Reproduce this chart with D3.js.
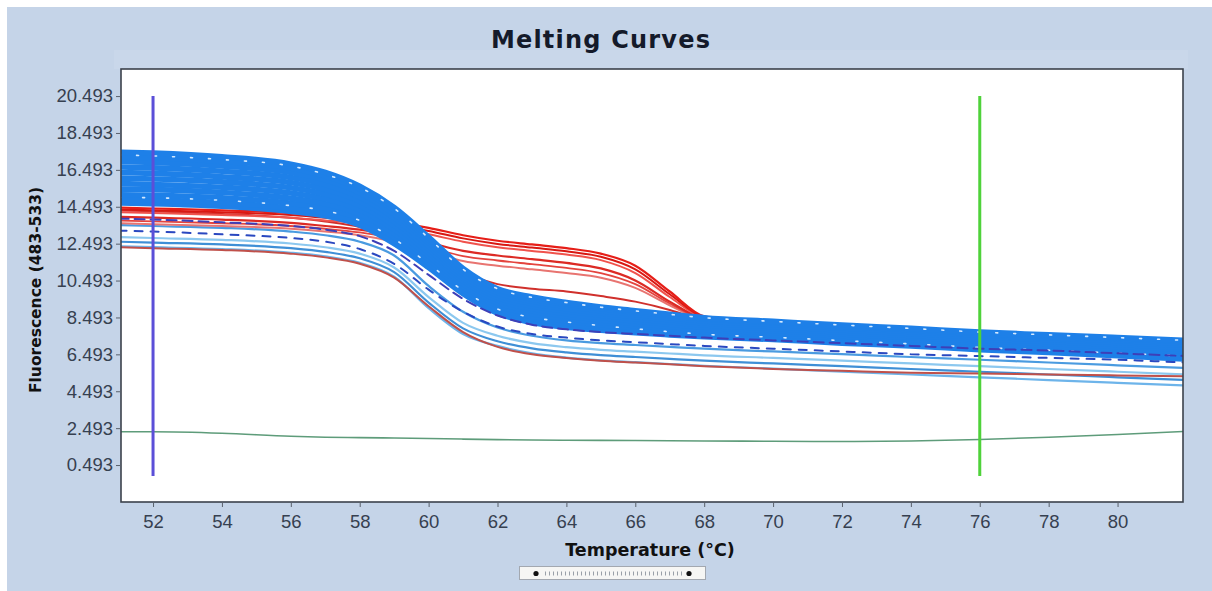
<!DOCTYPE html>
<html>
<head>
<meta charset="utf-8">
<script src="https://cdn.jsdelivr.net/npm/d3@7"></script>
<style>
  html, body { margin: 0; padding: 0; background: #c5d4e8; overflow: hidden; }
  svg { display: block; }
</style>
</head>
<body>
<svg id="chart" width="1212" height="591"></svg>
<script>
// ---- data ---------------------------------------------------------------
const temps = [51, 52, 54, 56, 57, 58, 59, 60, 61, 62, 63, 64, 65, 66, 67, 68, 70, 72, 74, 76, 78, 80, 82];

const xTickValues = [52, 54, 56, 58, 60, 62, 64, 66, 68, 70, 72, 74, 76, 78, 80];
const yTickValues = [0.493, 2.493, 4.493, 6.493, 8.493, 10.493, 12.493, 14.493, 16.493, 18.493, 20.493];

// main group of samples (single low-temperature melt)
const blueA = [17.45, 17.4, 17.2, 16.8, 16.35, 15.6, 14.45, 12.85, 11.15, 10.05, 9.6, 9.3, 9.06, 8.86, 8.66, 8.48, 8.28, 8.08, 7.9, 7.7, 7.55, 7.4, 7.25];
const blueB = [17.2, 17.15, 16.95, 16.6, 16.15, 15.45, 14.3, 12.7, 11.05, 9.98, 9.5, 9.22, 8.98, 8.78, 8.6, 8.42, 8.22, 8.02, 7.83, 7.63, 7.48, 7.33, 7.18];
const blueC = [16.95, 16.9, 16.7, 16.35, 15.95, 15.25, 14.1, 12.55, 10.9, 9.85, 9.38, 9.1, 8.86, 8.66, 8.48, 8.3, 8.11, 7.92, 7.73, 7.54, 7.39, 7.24, 7.08];
const blueD = [16.65, 16.6, 16.42, 16.08, 15.7, 15.02, 13.9, 12.38, 10.76, 9.72, 9.25, 8.97, 8.74, 8.55, 8.37, 8.2, 8.0, 7.81, 7.63, 7.44, 7.3, 7.14, 6.98];
const blueE = [16.35, 16.3, 16.12, 15.8, 15.44, 14.8, 13.7, 12.2, 10.62, 9.58, 9.12, 8.84, 8.62, 8.43, 8.25, 8.08, 7.9, 7.71, 7.52, 7.33, 7.19, 7.03, 6.87];
const blueF = [16.05, 16.0, 15.84, 15.52, 15.18, 14.56, 13.48, 12.02, 10.48, 9.44, 8.98, 8.7, 8.49, 8.3, 8.13, 7.97, 7.79, 7.6, 7.42, 7.23, 7.08, 6.92, 6.76];
const blueG = [15.75, 15.7, 15.55, 15.24, 14.92, 14.33, 13.27, 11.84, 10.32, 9.3, 8.84, 8.57, 8.36, 8.17, 8.0, 7.85, 7.68, 7.49, 7.31, 7.12, 6.97, 6.81, 6.65];
const blueH = [15.45, 15.42, 15.27, 14.95, 14.66, 14.1, 13.05, 11.66, 10.17, 9.15, 8.7, 8.44, 8.23, 8.04, 7.88, 7.74, 7.57, 7.38, 7.21, 7.02, 6.87, 6.71, 6.55];
const blueI = [15.15, 15.12, 14.98, 14.68, 14.4, 13.86, 12.84, 11.47, 10.02, 9.0, 8.56, 8.3, 8.1, 7.92, 7.76, 7.62, 7.46, 7.28, 7.1, 6.91, 6.76, 6.6, 6.44];
const blueJ = [14.9, 14.86, 14.72, 14.42, 14.16, 13.65, 12.65, 11.3, 9.88, 8.86, 8.43, 8.18, 7.98, 7.81, 7.66, 7.52, 7.36, 7.18, 7.0, 6.81, 6.67, 6.5, 6.34];
const blueK = [14.7, 14.66, 14.52, 14.24, 14.0, 13.5, 12.5, 11.2, 9.78, 8.72, 8.22, 7.96, 7.8, 7.66, 7.55, 7.45, 7.3, 7.1, 6.95, 6.75, 6.6, 6.42, 6.24];

// dotted pale samples running inside the main group
const paleA = [17.3, 17.25, 17.05, 16.7, 16.25, 15.55, 14.4, 12.8, 11.1, 10.05, 9.58, 9.3, 9.05, 8.85, 8.66, 8.48, 8.28, 8.08, 7.9, 7.7, 7.55, 7.4, 7.25];
const paleB = [15.0, 14.98, 14.84, 14.55, 14.28, 13.75, 12.75, 11.4, 9.95, 8.95, 8.5, 8.25, 8.05, 7.88, 7.72, 7.58, 7.42, 7.24, 7.06, 6.87, 6.72, 6.56, 6.4];

// dashed dark-blue samples
const navyA = [13.85, 13.8, 13.65, 13.45, 13.25, 12.9, 12.1, 10.8, 9.5, 8.6, 8.1, 7.85, 7.7, 7.6, 7.5, 7.4, 7.25, 7.1, 6.95, 6.8, 6.7, 6.55, 6.4];
const navyB = [13.2, 13.15, 13.0, 12.8, 12.6, 12.2, 11.4, 10.0, 8.8, 8.0, 7.6, 7.4, 7.25, 7.15, 7.05, 6.95, 6.8, 6.65, 6.5, 6.4, 6.3, 6.2, 6.05];

// low-signal light-blue samples
const lightA = [13.5, 13.45, 13.35, 13.15, 12.95, 12.6, 11.85, 10.2, 8.8, 7.95, 7.5, 7.25, 7.1, 7.0, 6.9, 6.8, 6.65, 6.5, 6.35, 6.2, 6.05, 5.9, 5.75];
const lightB = [12.85, 12.8, 12.7, 12.5, 12.3, 11.95, 11.2, 9.6, 8.2, 7.5, 7.1, 6.88, 6.74, 6.64, 6.54, 6.44, 6.3, 6.15, 6.0, 5.85, 5.7, 5.55, 5.4];
const lightC = [12.6, 12.55, 12.45, 12.25, 12.05, 11.7, 10.95, 9.3, 7.9, 7.2, 6.82, 6.6, 6.45, 6.35, 6.25, 6.15, 6.0, 5.85, 5.7, 5.55, 5.4, 5.25, 5.1];
const lightD = [12.35, 12.3, 12.2, 12.0, 11.8, 11.45, 10.7, 9.0, 7.6, 6.95, 6.55, 6.32, 6.17, 6.07, 5.97, 5.87, 5.72, 5.55, 5.4, 5.25, 5.1, 4.95, 4.8];

// samples with a second, higher-temperature melt
const redA = [14.45, 14.4, 14.3, 14.15, 14.0, 13.85, 13.65, 13.35, 12.95, 12.65, 12.45, 12.25, 11.95, 11.3, 9.9, 8.55, 8.1, 7.9, 7.75, 7.6, 7.45, 7.3, 7.15];
const redG = [14.35, 14.3, 14.2, 14.05, 13.9, 13.72, 13.5, 13.18, 12.78, 12.48, 12.28, 12.08, 11.78, 11.1, 9.75, 8.5, 8.05, 7.85, 7.68, 7.52, 7.38, 7.22, 7.08];
const redB = [14.2, 14.15, 14.05, 13.9, 13.75, 13.6, 13.35, 13.0, 12.6, 12.3, 12.1, 11.9, 11.6, 10.9, 9.6, 8.45, 8.0, 7.8, 7.6, 7.45, 7.3, 7.15, 7.0];
const redC = [13.95, 13.9, 13.8, 13.62, 13.45, 13.25, 12.95, 12.55, 12.1, 11.85, 11.65, 11.45, 11.15, 10.5, 9.35, 8.4, 7.9, 7.7, 7.5, 7.35, 7.2, 7.05, 6.9];
const redH = [13.75, 13.7, 13.6, 13.45, 13.3, 13.1, 12.78, 12.32, 11.82, 11.58, 11.38, 11.18, 10.9, 10.3, 9.25, 8.35, 7.85, 7.65, 7.45, 7.3, 7.15, 7.0, 6.85];
const redD = [13.6, 13.55, 13.45, 13.3, 13.15, 12.95, 12.6, 12.1, 11.55, 11.3, 11.1, 10.9, 10.65, 10.1, 9.15, 8.3, 7.8, 7.6, 7.4, 7.25, 7.1, 6.95, 6.8];
const redE = [14.3, 14.25, 14.1, 13.9, 13.7, 13.4, 12.8, 11.8, 10.9, 10.3, 10.05, 9.9, 9.65, 9.35, 8.9, 8.3, 7.7, 7.5, 7.3, 7.15, 7.0, 6.85, 6.7];
const redF = [12.3, 12.25, 12.15, 11.95, 11.75, 11.4, 10.65, 9.1, 7.7, 6.9, 6.5, 6.3, 6.15, 6.05, 5.95, 5.85, 5.7, 5.6, 5.5, 5.45, 5.4, 5.35, 5.3];

// no-template control
const control = [2.3, 2.3, 2.22, 2.05, 2.0, 1.98, 1.96, 1.93, 1.9, 1.87, 1.85, 1.84, 1.83, 1.82, 1.81, 1.8, 1.78, 1.77, 1.8, 1.88, 2.0, 2.15, 2.32];

// cursor positions (°C) and their vertical extent (fluorescence)
const cursorTemps = [52, 76];
const cursorRange = [-0.1, 20.5];

// ---- layout ---------------------------------------------------------------
const W = 1212, H = 591;
const plot = { left: 121, top: 69, right: 1183, bottom: 502 };

const svg = d3.select("#chart");

const x = d3.scaleLinear().domain([51.07, 81.9]).range([plot.left, plot.right]);
const y = d3.scaleLinear().domain([-1.51, 21.96]).range([plot.bottom, plot.top]);

// window background with white top / left margin
svg.append("rect").attr("width", W).attr("height", H).attr("fill", "#c5d4e8");
svg.append("rect").attr("x", 0).attr("y", 0).attr("width", W).attr("height", 7).attr("fill", "#ffffff");
svg.append("rect").attr("x", 0).attr("y", 0).attr("width", 7).attr("height", H).attr("fill", "#ffffff");
svg.append("rect").attr("x", 114).attr("y", 50).attr("width", 1074).attr("height", 19).attr("fill", "#c9d7ea");

// title
svg.append("text")
  .attr("x", 601).attr("y", 48)
  .attr("text-anchor", "middle")
  .attr("font-family", "DejaVu Sans")
  .attr("font-weight", "bold")
  .attr("font-size", 24)
  .attr("letter-spacing", 1.2)
  .attr("fill", "#141a2a")
  .text("Melting Curves");

// plot background
svg.append("rect")
  .attr("x", plot.left).attr("y", plot.top)
  .attr("width", plot.right - plot.left).attr("height", plot.bottom - plot.top)
  .attr("fill", "#ffffff");

svg.append("clipPath").attr("id", "plotClip")
  .append("rect")
  .attr("x", plot.left).attr("y", plot.top)
  .attr("width", plot.right - plot.left).attr("height", plot.bottom - plot.top);

const g = svg.append("g").attr("clip-path", "url(#plotClip)");

const line = d3.line()
  .x((d, i) => x(temps[i]))
  .y(d => y(d))
  .curve(d3.curveMonotoneX);

function drawSeries(values, stroke, width, dash) {
  const p = g.append("path")
    .datum(values)
    .attr("d", line)
    .attr("fill", "none")
    .attr("stroke", stroke)
    .attr("stroke-width", width)
    .attr("stroke-linejoin", "round")
    .attr("stroke-linecap", "round");
  if (dash) p.attr("stroke-dasharray", dash);
  return p;
}

// low-signal samples
drawSeries(lightD, "#6db4ea", 2.2);
drawSeries(lightC, "#3f8fd6", 2.2);
drawSeries(lightB, "#8cc8ef", 2.2);
drawSeries(lightA, "#4a9be0", 2.2);
drawSeries(redF, "#c0504a", 2);

// second-melt samples
drawSeries(redE, "#d0302c", 2);
drawSeries(redD, "#e87470", 2);
drawSeries(redH, "#e4443e", 1.8);
drawSeries(redC, "#dc2a24", 2.2);
drawSeries(redB, "#f0524c", 2);
drawSeries(redG, "#d81812", 2);
drawSeries(redA, "#e61e18", 2.2);

// main group
[blueK, blueJ, blueI, blueH, blueG, blueF, blueE, blueD, blueC, blueB, blueA]
  .forEach(s => drawSeries(s, "#1e80e8", 5.6));

drawSeries(paleA, "#d4e9ff", 1.6, "2,16");
drawSeries(paleB, "#d4e9ff", 1.6, "2,22");

// dashed dark-blue samples
drawSeries(navyA, "#3d3fb8", 2, "10,6");
drawSeries(navyB, "#2a48c0", 2, "8,8");

// control
drawSeries(control, "#5e9c7a", 1.6);

// cursors
const cursorColors = ["#5b4fd8", "#4fd23a"];
svg.selectAll(".cursor")
  .data(cursorTemps)
  .join("line")
  .attr("class", "cursor")
  .attr("x1", d => x(d)).attr("x2", d => x(d))
  .attr("y1", y(cursorRange[1])).attr("y2", y(cursorRange[0]))
  .attr("stroke", (d, i) => cursorColors[i])
  .attr("stroke-width", 3);

// plot frame
svg.append("rect")
  .attr("x", plot.left).attr("y", plot.top)
  .attr("width", plot.right - plot.left).attr("height", plot.bottom - plot.top)
  .attr("fill", "none")
  .attr("stroke", "#3b414b")
  .attr("stroke-width", 1.6);

// axes
const xAxis = d3.axisBottom(x).tickValues(xTickValues).tickSize(5).tickPadding(8).tickFormat(d3.format("d"));
const yAxis = d3.axisLeft(y).tickValues(yTickValues).tickSize(5).tickPadding(3).tickFormat(d3.format(".3f"));

const gx = svg.append("g").attr("transform", `translate(0,${plot.bottom})`).call(xAxis);
const gy = svg.append("g").attr("transform", `translate(${plot.left},0)`).call(yAxis);

[gx, gy].forEach(ax => {
  ax.select(".domain").remove();
  ax.selectAll(".tick line").attr("stroke", "#59606b");
  ax.selectAll(".tick text")
    .attr("fill", "#364050")
    .attr("font-family", "Liberation Sans, Arial, sans-serif")
    .attr("font-size", 18.5);
});

// axis titles
svg.append("text")
  .attr("x", 650).attr("y", 556)
  .attr("text-anchor", "middle")
  .attr("font-family", "DejaVu Sans")
  .attr("font-weight", "bold")
  .attr("font-size", 17.5)
  .attr("fill", "#111111")
  .text("Temperature (°C)");

svg.append("text")
  .attr("transform", "translate(41,290) rotate(-90)")
  .attr("text-anchor", "middle")
  .attr("font-family", "DejaVu Sans")
  .attr("font-weight", "bold")
  .attr("font-size", 15.5)
  .attr("fill", "#111111")
  .text("Fluorescence (483-533)");

// range scroller under the x axis
const scroller = svg.append("g").attr("class", "scroller");
scroller.append("rect")
  .attr("x", 519.5).attr("y", 566.5).attr("width", 186).attr("height", 13)
  .attr("fill", "#f6f6f4").attr("stroke", "#a3a8b0");
scroller.append("line")
  .attr("x1", 545).attr("x2", 682).attr("y1", 573.5).attr("y2", 573.5)
  .attr("stroke", "#9aa0a8").attr("stroke-width", 4).attr("stroke-dasharray", "1,3");
scroller.selectAll("circle")
  .data([536, 689])
  .join("circle")
  .attr("cx", d => d).attr("cy", 573.5).attr("r", 2.6)
  .attr("fill", "#111");
</script>
</body>
</html>
